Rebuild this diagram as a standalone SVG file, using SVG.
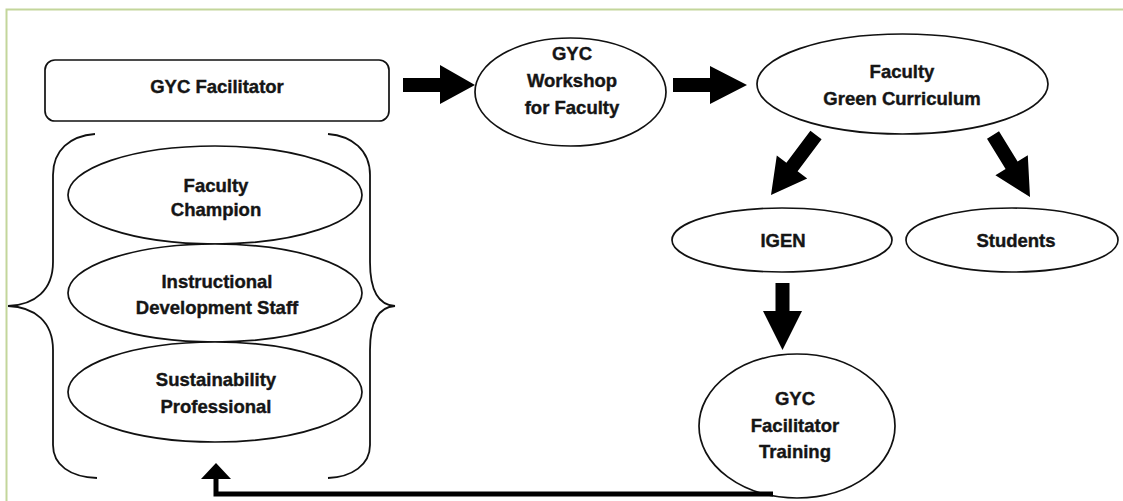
<svg xmlns="http://www.w3.org/2000/svg" width="1123" height="501" viewBox="0 0 1123 501">
  <style>
    .shape { fill: #ffffff; stroke: #111111; stroke-width: 1.7; }
    .brace { fill: none; stroke: #111111; stroke-width: 1.8; }
    .label { font-family: "Liberation Sans", Arial, sans-serif; font-weight: bold; font-size: 18.5px; fill: #151515; stroke: #151515; stroke-width: 0.4; text-anchor: middle; }
    .arrow { fill: #000000; stroke: none; }
    .frame { stroke: #c3d69b; stroke-width: 2; fill: none; }
  </style>
  <rect x="0" y="0" width="1123" height="501" fill="#ffffff"/>
  <path class="frame" d="M6.5,501 L6.5,9.5 L1123,9.5"/>

  <g id="gyc-facilitator">
    <rect class="shape" x="45" y="60" width="344" height="61" rx="10" ry="10"/>
    <text class="label" x="217" y="93">GYC Facilitator</text>
  </g>

  <g id="braces">
    <path class="brace" d="M95,134 C70,136 53,150 53,175 L53,262 C53,290 35,305 8,306 C35,307 53,322 53,350 L53,445 C53,465 70,477 97,478"/>
    <path class="brace" d="M328,134 C352,136 370,150 370,175 L370,262 C370,290 378,305 395,306 C378,307 370,322 370,350 L370,445 C370,465 352,477 328,478"/>
  </g>

  <g id="faculty-champion">
    <ellipse class="shape" cx="215" cy="195" rx="147" ry="49"/>
    <text class="label" x="216" y="192">Faculty</text>
    <text class="label" x="216" y="216">Champion</text>
  </g>

  <g id="instructional-development-staff">
    <ellipse class="shape" cx="215" cy="293" rx="147" ry="49"/>
    <text class="label" x="217" y="288">Instructional</text>
    <text class="label" x="217" y="314">Development Staff</text>
  </g>

  <g id="sustainability-professional">
    <ellipse class="shape" cx="215" cy="392" rx="147" ry="50"/>
    <text class="label" x="216" y="386">Sustainability</text>
    <text class="label" x="216" y="413">Professional</text>
  </g>

  <g id="gyc-workshop">
    <ellipse class="shape" cx="570.5" cy="92" rx="95.5" ry="54"/>
    <text class="label" x="572" y="60">GYC</text>
    <text class="label" x="572" y="87">Workshop</text>
    <text class="label" x="572" y="114">for Faculty</text>
  </g>

  <g id="faculty-green-curriculum">
    <ellipse class="shape" cx="902.5" cy="84" rx="145.5" ry="50"/>
    <text class="label" x="902" y="78">Faculty</text>
    <text class="label" x="902" y="105">Green Curriculum</text>
  </g>

  <g id="igen">
    <ellipse class="shape" cx="782" cy="240" rx="110" ry="32"/>
    <text class="label" x="783" y="247">IGEN</text>
  </g>

  <g id="students">
    <ellipse class="shape" cx="1012" cy="240" rx="106" ry="32"/>
    <text class="label" x="1016" y="247">Students</text>
  </g>

  <g id="gyc-facilitator-training">
    <ellipse class="shape" cx="797" cy="426" rx="98" ry="72"/>
    <text class="label" x="795" y="405">GYC</text>
    <text class="label" x="795" y="432">Facilitator</text>
    <text class="label" x="795" y="458">Training</text>
  </g>

  <g id="connectors">
    <polygon class="arrow" points="403,78 440,78 440,65 475,85 440,104 440,92 403,92"/>
    <polygon class="arrow" points="673,78 710,78 710,66 747,85 710,104 710,92 673,92"/>
    <polygon class="arrow" points="810.4,130.8 821.6,139.2 797.6,171.2 807.2,178.4 771,195 776.8,155.6 786.4,162.8"/>
    <polygon class="arrow" points="987,138.7 999,131.3 1017.6,161.5 1027.8,155.2 1030,197 995.4,175.2 1005.6,168.9"/>
    <polygon class="arrow" points="775.5,283 789.5,283 789.5,311 802,311 782.5,350 763,311 775.5,311"/>
    <path d="M773,494 L216,494 L216,478" fill="none" stroke="#000000" stroke-width="5"/>
    <polygon class="arrow" points="216,463 231,479 201,479"/>
  </g>
</svg>
